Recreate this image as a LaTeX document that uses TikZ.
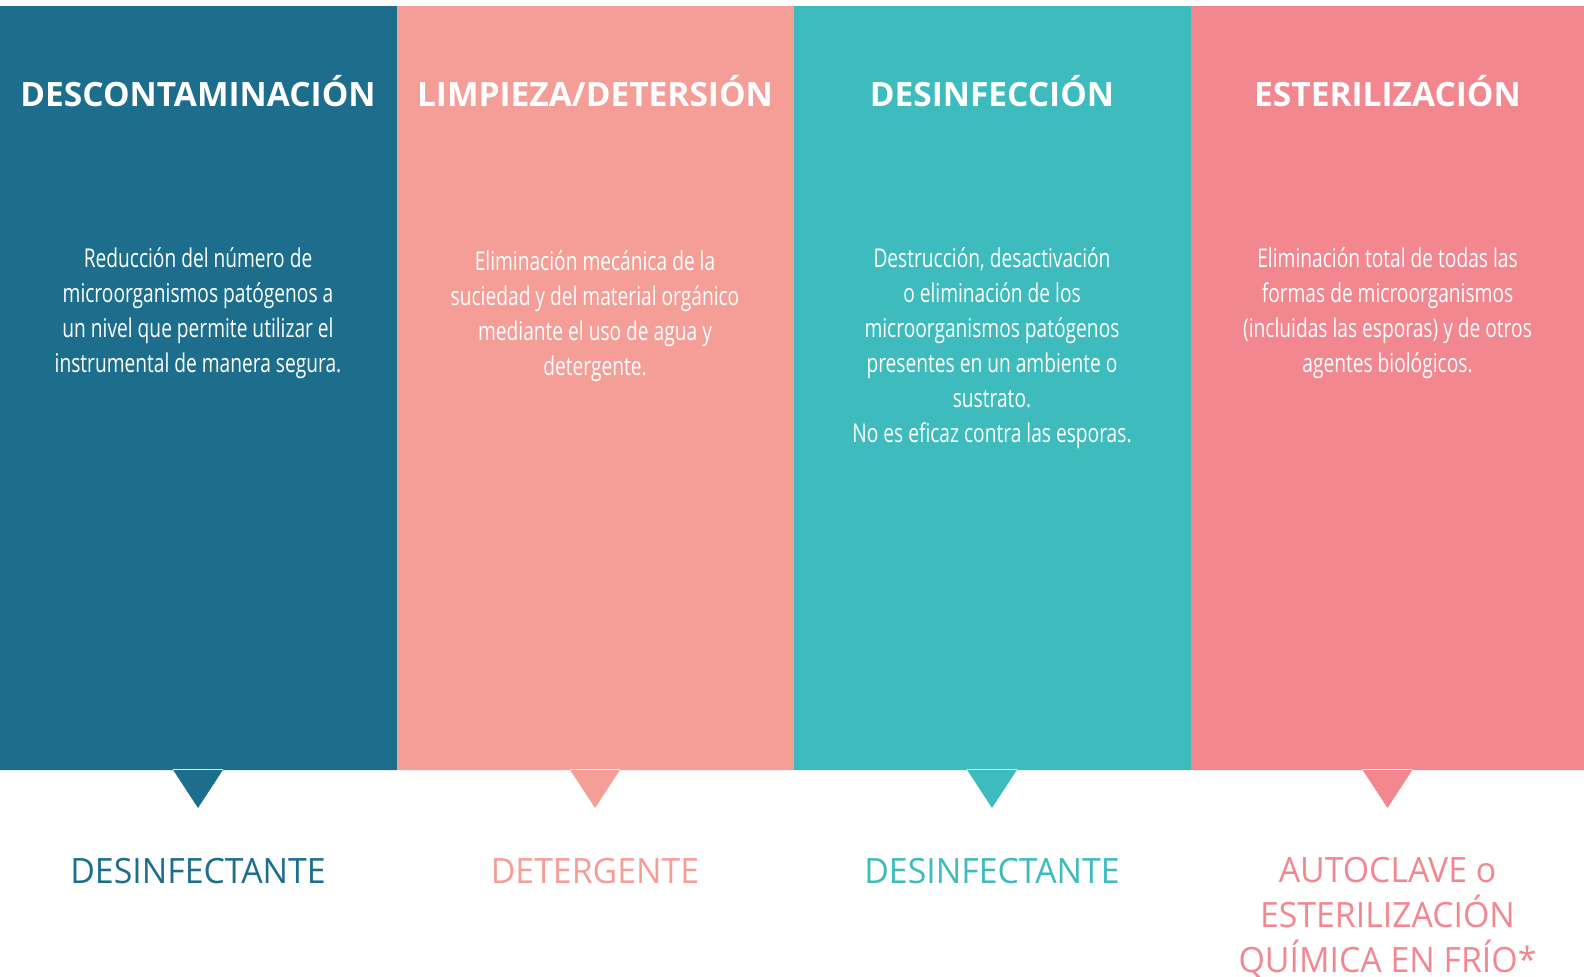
\documentclass[tikz,border=0pt]{standalone}
\usepackage{fontspec}
\setmainfont{Open Sans}
\newfontfamily\narrowfont[FakeStretch=0.74]{Open Sans}
\newfontfamily\labelfont[FakeStretch=0.97]{Open Sans}
\usetikzlibrary{positioning}
\definecolor{decon}{RGB}{28,110,140}
\definecolor{limp}{RGB}{245,158,152}
\definecolor{desinf}{RGB}{61,187,189}
\definecolor{ester}{RGB}{242,135,144}
\tikzset{
  title/.style = {anchor=base, text=white, inner sep=0pt, font=\fontsize{16.8}{20}\selectfont\bfseries},
  desc/.style = {anchor=base, text=white, inner sep=0pt, align=center, font=\narrowfont\fontsize{13}{17.5}\selectfont},
  agent/.style = {anchor=base, inner sep=0pt, align=center, font=\labelfont\fontsize{17.5}{22.5}\selectfont},
}
\begin{document}
\begin{tikzpicture}[x=0.5bp, y=-0.5bp]
\useasboundingbox (0,0) rectangle (1584,976);
% columns with their pointers
\fill [decon] (0,6) rectangle (397,770) (172.5,769) -- (223.5,769) -- (198,808) -- cycle;
\fill [limp] (397,6) rectangle (794,770) (569.5,769) -- (620.5,769) -- (595,808) -- cycle;
\fill [desinf] (794,6) rectangle (1191,770) (966.5,769) -- (1017.5,769) -- (992,808) -- cycle;
\fill [ester] (1191,6) rectangle (1584,770) (1362,769) -- (1413,769) -- (1387.5,808) -- cycle;
% titles
\node [title] (t1) at (198,106) {DESCONTAMINACIÓN};
\node [title] (t2) at (595,106) {LIMPIEZA/DETERSIÓN};
\node [title] (t3) at (992,106) {DESINFECCIÓN};
\node [title] (t4) at (1387.5,106) {ESTERILIZACIÓN};
% descriptions (anchored at the last line)
\node [desc] (d1) at (198,372) {Reducción del número de\\microorganismos patógenos a\\un nivel que permite utilizar el\\instrumental de manera segura.};
\node [desc] (d2) at (595,375) {Eliminación mecánica de la\\suciedad y del material orgánico\\mediante el uso de agua y\\detergente.};
\node [desc] (d3) at (992,442) {Destrucción, desactivación\\o eliminación de los\\microorganismos patógenos\\presentes en un ambiente o\\sustrato.\\No es eficaz contra las esporas.};
\node [desc] (d4) at (1387.5,372) {Eliminación total de todas las\\formas de microorganismos\\(incluidas las esporas) y de otros\\agentes biológicos.};
% agents
\node [agent, text=decon] (a1) at (198,883) {DESINFECTANTE};
\node [agent, text=limp] (a2) at (595,883) {DETERGENTE};
\node [agent, text=desinf] (a3) at (992,883) {DESINFECTANTE};
\node [agent, text=ester] (a4) at (1387.5,972) {AUTOCLAVE o\\ESTERILIZACIÓN\\QUÍMICA EN FRÍO*};
\end{tikzpicture}
\end{document}
